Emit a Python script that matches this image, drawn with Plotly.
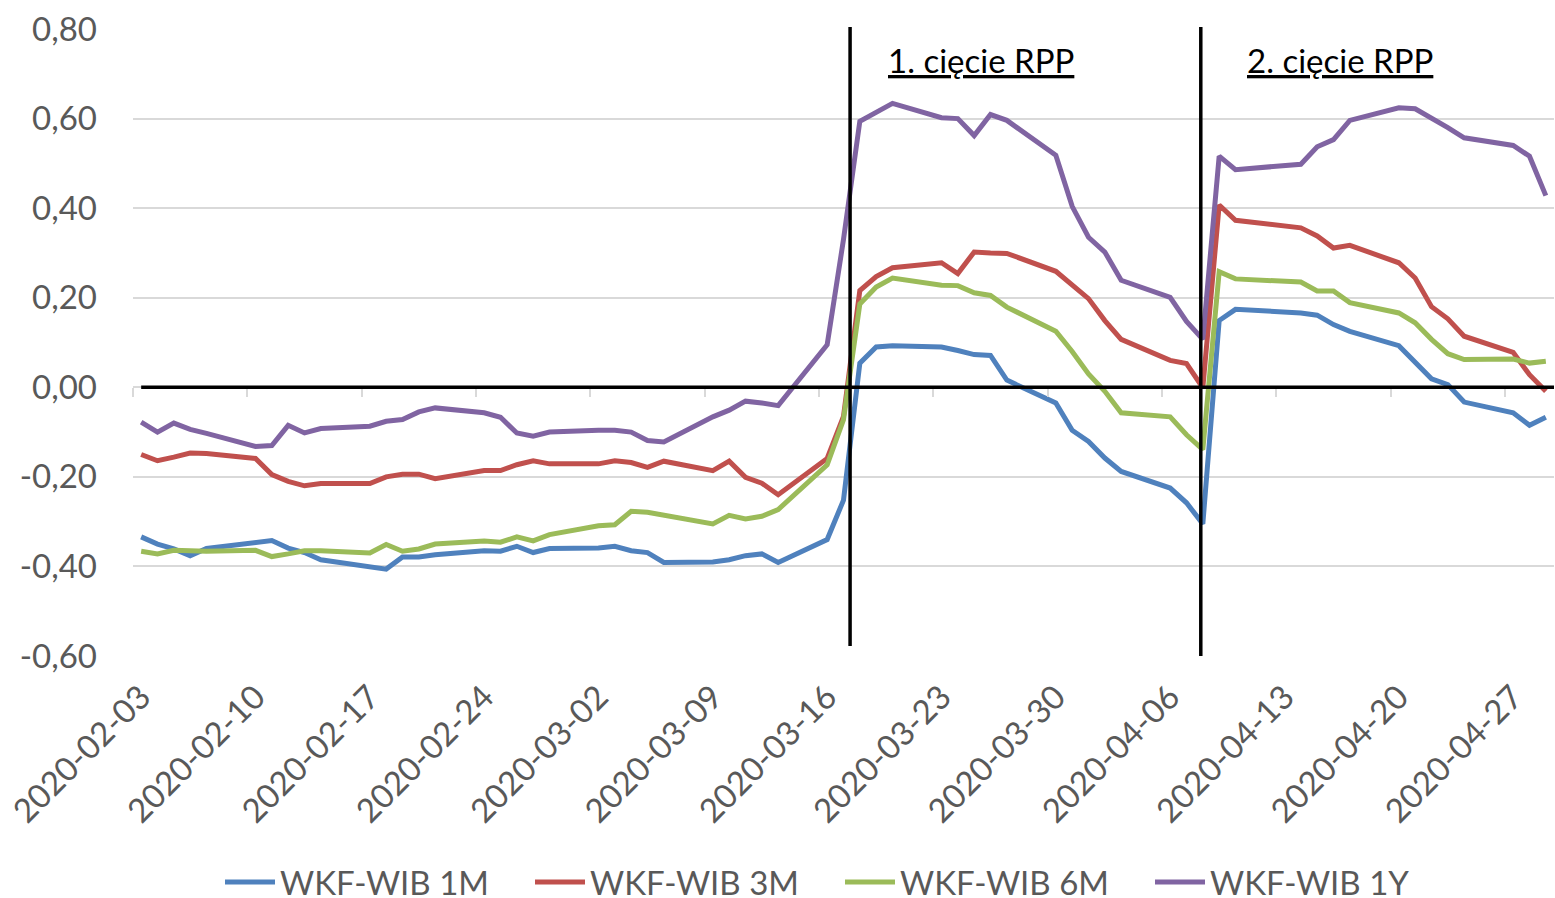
import plotly.graph_objects as go

dates = [
    "2020-02-03", "2020-02-04", "2020-02-05", "2020-02-06", "2020-02-07",
    "2020-02-10", "2020-02-11", "2020-02-12", "2020-02-13", "2020-02-14",
    "2020-02-17", "2020-02-18", "2020-02-19", "2020-02-20", "2020-02-21",
    "2020-02-24", "2020-02-25", "2020-02-26", "2020-02-27", "2020-02-28",
    "2020-03-02", "2020-03-03", "2020-03-04", "2020-03-05", "2020-03-06",
    "2020-03-09", "2020-03-10", "2020-03-11", "2020-03-12", "2020-03-13",
    "2020-03-16", "2020-03-17", "2020-03-18", "2020-03-19", "2020-03-20",
    "2020-03-23", "2020-03-24", "2020-03-25", "2020-03-26", "2020-03-27",
    "2020-03-30", "2020-03-31", "2020-04-01", "2020-04-02", "2020-04-03",
    "2020-04-06", "2020-04-07", "2020-04-08", "2020-04-09", "2020-04-10",
    "2020-04-14", "2020-04-15", "2020-04-16", "2020-04-17",
    "2020-04-20", "2020-04-21", "2020-04-22", "2020-04-23", "2020-04-24",
    "2020-04-27", "2020-04-28", "2020-04-29",
]

wib_1m = [
    -0.334, -0.350, -0.361, -0.376, -0.360,
    -0.348, -0.342, -0.359, -0.369, -0.385,
    -0.402, -0.406, -0.379, -0.379, -0.374,
    -0.365, -0.366, -0.355, -0.369, -0.360,
    -0.359, -0.355, -0.365, -0.369, -0.391,
    -0.390, -0.385, -0.376, -0.372, -0.391,
    -0.340, -0.252, 0.054, 0.090, 0.093,
    0.090, 0.082, 0.073, 0.071, 0.016,
    -0.035, -0.096, -0.121, -0.158, -0.188,
    -0.225, -0.258, -0.305, 0.149, 0.174,
    0.166, 0.161, 0.140, 0.125,
    0.093, 0.056, 0.019, 0.006, -0.033,
    -0.057, -0.085, -0.067,
]

wib_3m = [
    -0.150, -0.164, -0.156, -0.147, -0.148,
    -0.159, -0.195, -0.210, -0.220, -0.215,
    -0.215, -0.200, -0.194, -0.194, -0.204,
    -0.186, -0.186, -0.173, -0.164, -0.171,
    -0.171, -0.164, -0.168, -0.179, -0.165,
    -0.186, -0.165, -0.201, -0.214, -0.240,
    -0.159, -0.065, 0.216, 0.247, 0.267,
    0.278, 0.254, 0.302, 0.300, 0.299,
    0.259, 0.229, 0.198, 0.149, 0.107,
    0.060, 0.053, -0.001, 0.407, 0.373,
    0.356, 0.338, 0.311, 0.317,
    0.278, 0.244, 0.180, 0.153, 0.114,
    0.078, 0.028, -0.009,
]

wib_6m = [
    -0.366, -0.372, -0.364, -0.366, -0.366,
    -0.364, -0.378, -0.372, -0.365, -0.365,
    -0.370, -0.351, -0.366, -0.361, -0.350,
    -0.343, -0.346, -0.334, -0.343, -0.329,
    -0.309, -0.307, -0.277, -0.279, -0.286,
    -0.305, -0.286, -0.294, -0.288, -0.273,
    -0.173, -0.072, 0.186, 0.224, 0.244,
    0.228, 0.227, 0.211, 0.205, 0.179,
    0.125, 0.080, 0.030, -0.009, -0.057,
    -0.066, -0.106, -0.139, 0.258, 0.242,
    0.235, 0.215, 0.215, 0.189,
    0.166, 0.144, 0.107, 0.075, 0.062,
    0.063, 0.054, 0.058,
]

wib_1y = [
    -0.078, -0.100, -0.080, -0.094, -0.103,
    -0.132, -0.130, -0.085, -0.102, -0.092,
    -0.087, -0.076, -0.072, -0.055, -0.046,
    -0.057, -0.067, -0.102, -0.109, -0.100,
    -0.096, -0.096, -0.100, -0.119, -0.122,
    -0.066, -0.051, -0.031, -0.035, -0.041,
    0.095, 0.330, 0.594, 0.613, 0.634,
    0.602, 0.600, 0.562, 0.609, 0.596,
    0.518, 0.404, 0.335, 0.302, 0.239,
    0.201, 0.147, 0.107, 0.516, 0.486,
    0.498, 0.537, 0.553, 0.596,
    0.624, 0.622, 0.602, 0.580, 0.557,
    0.540, 0.516, 0.428,
]

series_names = ["WKF-WIB 1M", "WKF-WIB 3M", "WKF-WIB 6M", "WKF-WIB 1Y"]
series_colors = ["#4F81BD", "#C0504D", "#9BBB59", "#8064A2"]

y_tick_vals = [-0.6, -0.4, -0.2, 0.0, 0.2, 0.4, 0.6, 0.8]
y_tick_text = ["-0,60", "-0,40", "-0,20", "0,00", "0,20", "0,40", "0,60", "0,80"]

cut_dates = ["2020-03-17 09:40", "2020-04-07 21:00"]
cut_labels = ["1. cięcie RPP", "2. cięcie RPP"]

x_range = ["2020-02-02 12:00", "2020-04-29 12:00"]
y_range = [-0.6, 0.8]

FONT = "Lato"
GRAY = "#595959"

# plot area in pixels (for placing layout elements)
PL, PW, PB, PH = 133, 1421, 656, 627

fig = go.Figure()
legend_ids = ["legend", "legend2", "legend3", "legend4"]
for name, vals, col, lg in zip(series_names, [wib_1m, wib_3m, wib_6m, wib_1y],
                               series_colors, legend_ids):
    fig.add_trace(go.Scatter(x=dates, y=vals, mode="lines", name=name, legend=lg,
                             line=dict(color=col, width=5)))

# dummy trace to activate the tick-mark axis at zero
fig.add_trace(go.Scatter(x=[dates[0]], y=[0], mode="lines", xaxis="x2",
                         showlegend=False, hoverinfo="skip",
                         line=dict(width=0)))

shapes = []
shapes.append(dict(type="line", xref="x", yref="y", x0=dates[0], x1=x_range[1],
                   y0=0, y1=0, line=dict(color="black", width=3.5), layer="above"))
shapes.append(dict(type="line", xref="x", yref="paper", x0=cut_dates[0], x1=cut_dates[0],
                   y0=(PB - 646) / PH, y1=1.003, line=dict(color="black", width=3.5), layer="above"))
shapes.append(dict(type="line", xref="x", yref="paper", x0=cut_dates[1], x1=cut_dates[1],
                   y0=0, y1=1.003, line=dict(color="black", width=3.5), layer="above"))

annotations = []
for xc, lab in zip([(980.5 - PL) / PW, (1340 - PL) / PW], cut_labels):
    annotations.append(dict(x=xc, y=(PB - 60) / PH, xref="paper", yref="paper",
                            text=lab, showarrow=False, xanchor="center", yanchor="middle",
                            font=dict(family=FONT, size=33, color="black", lineposition="under")))

zero_pos = (0 - y_range[0]) / (y_range[1] - y_range[0])

legend_text_x = [282, 592, 902, 1212]
legend_layouts = {}
for lg, tx in zip(legend_ids, legend_text_x):
    legend_layouts[lg] = dict(orientation="h", x=(tx - 62 - PL) / PW, xanchor="left",
                              y=(PB - 882) / PH, yanchor="middle",
                              font=dict(family=FONT, size=33, color=GRAY),
                              itemwidth=50, bgcolor="rgba(0,0,0,0)")

fig.update_layout(
    width=1555, height=898, autosize=False,
    margin=dict(l=PL, r=1, t=29, b=242, autoexpand=False),
    paper_bgcolor="white", plot_bgcolor="white",
    font=dict(family=FONT, color=GRAY),
    shapes=shapes, annotations=annotations,
    showlegend=True,
    xaxis=dict(type="date", range=x_range, showgrid=False, showline=False, zeroline=False,
               tick0="2020-02-03", dtick=7 * 86400000, tickformat="%Y-%m-%d",
               tickangle=-45, ticks="", ticklabelstandoff=14, automargin=False,
               tickfont=dict(family=FONT, size=33, color=GRAY)),
    xaxis2=dict(type="date", range=x_range, overlaying="x", anchor="free", position=zero_pos,
                side="bottom", showgrid=False, showline=False, zeroline=False,
                tick0=x_range[0], dtick=7 * 86400000, ticks="outside", ticklen=9,
                tickcolor="#D9D9D9", tickwidth=1.5, showticklabels=False, automargin=False),
    yaxis=dict(range=y_range, tickvals=y_tick_vals, ticktext=y_tick_text,
               showgrid=True, gridcolor="#D9D9D9", gridwidth=1.5, zeroline=False,
               showline=False, ticks="", ticklabelstandoff=35, automargin=False,
               tickfont=dict(family=FONT, size=33, color=GRAY)),
    **legend_layouts,
)

fig.write_html(
    "out.html",
    config={"displayModeBar": False},
    post_script="document.body.style.margin='0px';document.body.style.overflow='hidden';",
)
